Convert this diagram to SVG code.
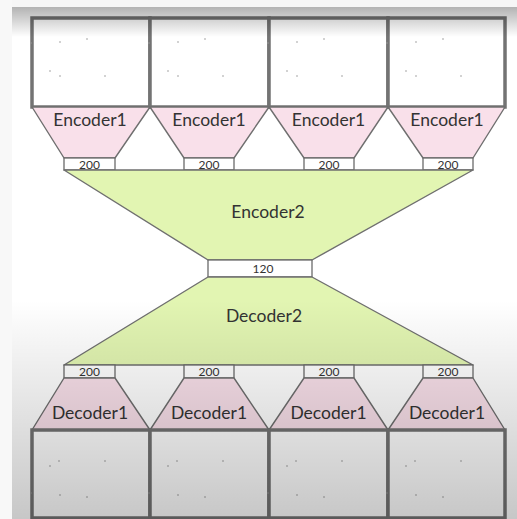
<svg xmlns="http://www.w3.org/2000/svg" width="517" height="519" viewBox="0 0 517 519">
  <style>
    .cell { fill: #ffffff; stroke: #737373; stroke-width: 3.5; }
    .enc1 { fill: #f9e0ea; stroke: #6f6f6f; stroke-width: 1.4; stroke-linejoin: round; }
    .lvl2 { fill: #e2f5b2; stroke: #6f6f6f; stroke-width: 1.4; stroke-linejoin: round; }
    .size { fill: #ffffff; stroke: #6a6a6a; stroke-width: 1.3; }
    .lbl { font-family: Lato, "Open Sans", "Liberation Sans", sans-serif; font-size: 17.5px; fill: #333333; text-anchor: middle; }
    .num { font-family: Lato, "Open Sans", "Liberation Sans", sans-serif; font-size: 12px; fill: #333333; text-anchor: middle; }
    .dot { fill: #9a9a9a; }
  </style>
  <defs>
    <linearGradient id="topShade" x1="0" y1="0" x2="0" y2="1">
      <stop offset="0" stop-color="#000" stop-opacity="0.3"/>
      <stop offset="1" stop-color="#000" stop-opacity="0"/>
    </linearGradient>
    <linearGradient id="bottomShade" x1="0" y1="0" x2="0" y2="1">
      <stop offset="0" stop-color="#000" stop-opacity="0"/>
      <stop offset="1" stop-color="#000" stop-opacity="0.22"/>
    </linearGradient>
    <g id="dotsTop">
      <circle class="dot" cx="31" cy="43" r="0.8"/>
      <circle class="dot" cx="60" cy="42" r="0.8"/>
      <circle class="dot" cx="87" cy="39" r="0.8"/>
      <circle class="dot" cx="50" cy="71" r="0.8"/>
      <circle class="dot" cx="60" cy="76" r="0.8"/>
      <circle class="dot" cx="105" cy="76" r="0.8"/>
    </g>
    <g id="dotsBottom">
      <circle class="dot" cx="59" cy="461" r="0.8"/>
      <circle class="dot" cx="50" cy="466" r="0.8"/>
      <circle class="dot" cx="105" cy="461" r="0.8"/>
      <circle class="dot" cx="31" cy="493" r="0.8"/>
      <circle class="dot" cx="60" cy="495" r="0.8"/>
      <circle class="dot" cx="87" cy="497" r="0.8"/>
    </g>
  </defs>

  <!-- page -->
  <rect x="0" y="0" width="517" height="519" fill="#ffffff"/>
  <rect x="0" y="0" width="517" height="7" fill="#f6f6f6"/>
  <rect x="0" y="0" width="12" height="519" fill="#f8f8f8"/>

  <!-- input cells -->
  <g id="inputs">
    <rect class="cell" x="32" y="18" width="118" height="89"/>
    <rect class="cell" x="150" y="18" width="119" height="89"/>
    <rect class="cell" x="269" y="18" width="119" height="89"/>
    <rect class="cell" x="388" y="18" width="117" height="89"/>
    <use href="#dotsTop"/>
    <use href="#dotsTop" x="118"/>
    <use href="#dotsTop" x="237"/>
    <use href="#dotsTop" x="356"/>
  </g>

  <!-- first-level encoders -->
  <g id="encoder1-a">
    <polygon class="enc1" points="32,107 150,107 115,158 64,158"/>
    <text class="lbl" x="90" y="126">Encoder1</text>
    <rect class="size" x="64" y="158" width="51" height="12"/>
    <text class="num" x="89.5" y="168.5">200</text>
  </g>
  <g id="encoder1-b">
    <polygon class="enc1" points="150,107 269,107 234,158 184,158"/>
    <text class="lbl" x="209" y="126">Encoder1</text>
    <rect class="size" x="184" y="158" width="50" height="12"/>
    <text class="num" x="209" y="168.5">200</text>
  </g>
  <g id="encoder1-c">
    <polygon class="enc1" points="269,107 388,107 354,158 304,158"/>
    <text class="lbl" x="328.5" y="126">Encoder1</text>
    <rect class="size" x="304" y="158" width="50" height="12"/>
    <text class="num" x="329" y="168.5">200</text>
  </g>
  <g id="encoder1-d">
    <polygon class="enc1" points="388,107 505,107 473,158 423,158"/>
    <text class="lbl" x="447" y="126">Encoder1</text>
    <rect class="size" x="423" y="158" width="50" height="12"/>
    <text class="num" x="448" y="168.5">200</text>
  </g>

  <!-- shared encoder / decoder -->
  <g id="encoder2">
    <polygon class="lvl2" points="64,170 473,170 312,260 208,260"/>
    <text class="lbl" x="268" y="218">Encoder2</text>
  </g>
  <g id="code">
    <rect class="size" x="208" y="260" width="104" height="17"/>
    <text class="num" x="263" y="273">120</text>
  </g>
  <g id="decoder2">
    <polygon class="lvl2" points="208,277 312,277 473,365 64,365"/>
    <text class="lbl" x="264" y="322">Decoder2</text>
  </g>

  <!-- first-level decoders -->
  <g id="decoder1-a">
    <rect class="size" x="64" y="365" width="51" height="13"/>
    <text class="num" x="89.5" y="376">200</text>
    <polygon class="enc1" points="64,378 115,378 150,430 32,430"/>
    <text class="lbl" x="90" y="419">Decoder1</text>
  </g>
  <g id="decoder1-b">
    <rect class="size" x="184" y="365" width="50" height="13"/>
    <text class="num" x="209" y="376">200</text>
    <polygon class="enc1" points="184,378 234,378 269,430 150,430"/>
    <text class="lbl" x="209" y="419">Decoder1</text>
  </g>
  <g id="decoder1-c">
    <rect class="size" x="304" y="365" width="50" height="13"/>
    <text class="num" x="329" y="376">200</text>
    <polygon class="enc1" points="304,378 354,378 388,430 269,430"/>
    <text class="lbl" x="328.5" y="419">Decoder1</text>
  </g>
  <g id="decoder1-d">
    <rect class="size" x="423" y="365" width="50" height="13"/>
    <text class="num" x="448" y="376">200</text>
    <polygon class="enc1" points="423,378 473,378 505,430 388,430"/>
    <text class="lbl" x="447" y="419">Decoder1</text>
  </g>

  <!-- output cells -->
  <g id="outputs">
    <rect class="cell" x="32" y="430" width="118" height="88"/>
    <rect class="cell" x="150" y="430" width="119" height="88"/>
    <rect class="cell" x="269" y="430" width="119" height="88"/>
    <rect class="cell" x="388" y="430" width="117" height="88"/>
    <use href="#dotsBottom"/>
    <use href="#dotsBottom" x="118"/>
    <use href="#dotsBottom" x="237"/>
    <use href="#dotsBottom" x="356"/>
  </g>

  <!-- frame shading -->
  <rect x="12" y="7" width="505" height="30" fill="url(#topShade)"/>
  <rect x="12" y="300" width="505" height="219" fill="url(#bottomShade)"/>
</svg>
